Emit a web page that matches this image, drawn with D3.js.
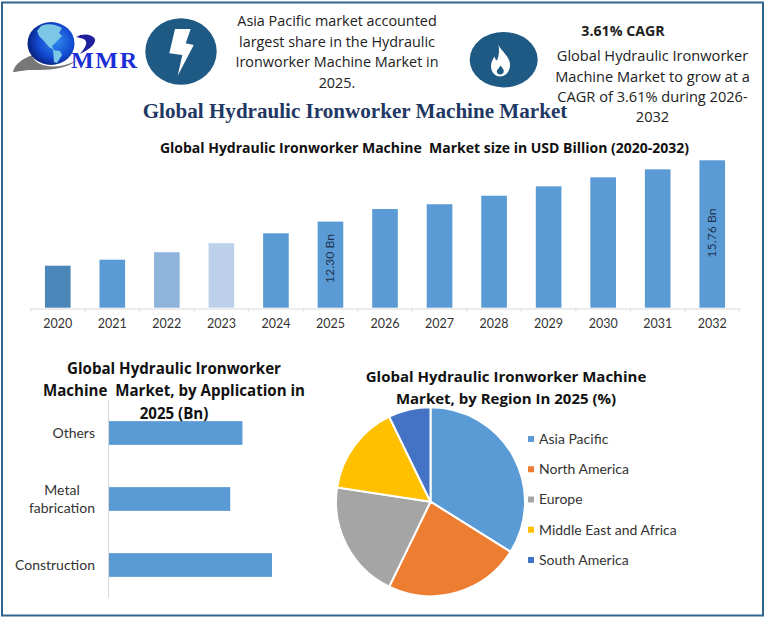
<!DOCTYPE html>
<html><head><meta charset="utf-8">
<style>html,body{margin:0;padding:0;background:#fff}svg{display:block}</style>
<script src="https://cdnjs.cloudflare.com/ajax/libs/d3/7.8.5/d3.min.js"></script>
</head><body><svg id="c" width="768" height="618"></svg>
<script>
const years=["2020","2021","2022","2023","2024","2025","2026","2027","2028","2029","2030","2031","2032"];
const sizes=[9.81,10.15,10.57,11.08,11.64,12.30,13.01,13.28,13.76,14.29,14.80,15.25,15.76];
const barColors=["#4a86b8","#5b9bd5","#8fb4dc","#bdd0e9","#5b9bd5","#5b9bd5","#5b9bd5","#5b9bd5","#5b9bd5","#5b9bd5","#5b9bd5","#5b9bd5","#5b9bd5"];
const barLabels={"2025":"12.30 Bn","2032":"15.76 Bn"};
const applications=["Others","Metal fabrication","Construction"];
const applicationValues=[3.93,3.57,4.80];
const regions=["Asia Pacific","North America","Europe","Middle East and Africa","South America"];
const regionShares=[33.9,23.3,20.2,15.4,7.2];
const regionColors=["#5b9bd5","#ed7d31","#a5a5a5","#ffc000","#4472c4"];

const sans="Lato, 'Open Sans', sans-serif";
const open="'Open Sans', Lato, sans-serif";
const svg=d3.select("#c");
const navy="#1f5a85";
svg.append("rect").attr("x",2).attr("y",2.5).attr("width",761).attr("height",613).attr("fill","#fff").attr("stroke","#2f6690").attr("stroke-width",2);

function lines(x,ys,arr,size,weight,fill,family){
  arr.forEach((t,i)=>svg.append("text").attr("x",x).attr("y",ys[i]).attr("text-anchor","middle")
    .attr("font-family",family||open).attr("font-size",size).attr("font-weight",weight||400).attr("fill",fill||"#222").style("white-space","pre").text(t));
}

/* logo */
const defs=svg.append("defs");
const g1=defs.append("radialGradient").attr("id","globe").attr("cx","0.6").attr("cy","0.45").attr("r","0.7");
g1.append("stop").attr("offset","0").attr("stop-color","#2f8df0");
g1.append("stop").attr("offset","0.55").attr("stop-color","#1248d0");
g1.append("stop").attr("offset","1").attr("stop-color","#04125a");
svg.append("path").attr("d","M13 72 C14 65 23 58 33 55 C32 62 44 68 60 66 C66 65 72 63 77 60 C66 70 46 70 32 70 C24 70 17 72 13 72Z").attr("fill","#777");
svg.append("ellipse").attr("cx",51).attr("cy",43.5).attr("rx",23.5).attr("ry",21.5).attr("fill","url(#globe)");
svg.append("path").attr("d","M41 26 C47 23 56 24 62 28 L59 33 L62 36 L57 41 L52 46 L54 50 L49 47 L44 41 L39 36 L37 31 Z").attr("fill","#7cc7e6");
svg.append("path").attr("d","M53 50 L60 51 L62 55 L57 63 L54 62 Z").attr("fill","#7cc7e6");
svg.append("path").attr("d","M76 37 C83 33 92 34 95 39 C96 45 88 50 80 54 C85 48 88 43 85 40 C83 38 79 38 76 37Z").attr("fill","#20209c");
svg.append("text").attr("x",71).attr("y",68).attr("font-family","'Liberation Serif',serif").attr("font-weight",700).attr("font-size",24).attr("fill","#1c2fd6").attr("textLength",66).text("MMR");

/* icons */
svg.append("ellipse").attr("cx",181).attr("cy",51.5).attr("rx",35.7).attr("ry",33.3).attr("fill",navy);
svg.append("path").attr("d","M175 29 L190.7 29 L185.7 43.3 L193.7 45 L177.7 75.7 L182.3 55 L169.3 53.3 Z").attr("fill","#fff");
svg.append("ellipse").attr("cx",503.7).attr("cy",59.7).attr("rx",34).attr("ry",27.7).attr("fill",navy);
svg.append("path").attr("d","M498.5 45 C501 51 510 56 510 65 C510 72 505 76.5 500 76.5 C495 76.5 491 72 491 66 C491 62 493 59 494.5 56.5 C495 59 496 60 497 60.5 C499 56 499.5 50 498.5 45Z").attr("fill","#fff");
svg.append("path").attr("d","M500.5 65.5 C502.5 68 504.5 70 503.5 72.5 C502.5 75 498 75 497 72.5 C496 70 499.5 68 500.5 65.5Z").attr("fill",navy);

/* header text */
lines(337,[26,47,67,88],["Asia Pacific market accounted","largest share in the Hydraulic","Ironworker Machine Market in","2025."],14.4,400,"#222");
lines(623,[36],["3.61% CAGR"],14.2,700,"#222");
lines(652.5,[61,82,102,122],["Global Hydraulic Ironworker","Machine Market to grow at a","CAGR of 3.61% during 2026-","2032"],14.6,400,"#222");
lines(355,[118],["Global Hydraulic Ironworker Machine Market"],21.1,700,"#1f3864","'Liberation Serif',serif");

/* column chart */
const x=d3.scaleBand().domain(years).range([30.5,739.5]).paddingInner(0.53).paddingOuter(0.265);
const y=d3.scaleLinear().domain([7.44,15.76]).range([307.7,160.3]);
lines(424.5,[153],["Global Hydraulic Ironworker Machine  Market size in USD Billion (2020-2032)"],14,700,"#111");
svg.append("g").selectAll("rect").data(years).join("rect")
  .attr("x",d=>x(d)).attr("width",x.bandwidth())
  .attr("y",(d,i)=>y(sizes[i])).attr("height",(d,i)=>y.range()[0]-y(sizes[i]))
  .attr("fill",(d,i)=>barColors[i]);
const xAxis=d3.axisBottom(x).tickSize(0).tickPadding(11);
const gx=svg.append("g").attr("transform","translate(0,308.5)").call(xAxis);
gx.select(".domain").attr("stroke","#d9d9d9");
gx.selectAll("text").attr("font-family",sans).attr("font-size",12.5).attr("fill","#333");
const step=x.step();
gx.selectAll("line.sep").data(d3.range(years.length+1)).join("line").attr("class","sep")
  .attr("x1",i=>30.5+i*step).attr("x2",i=>30.5+i*step).attr("y1",0).attr("y2",3).attr("stroke","#d9d9d9");
const labelY={"2025":258.5,"2032":233};
svg.append("g").selectAll("text").data(Object.keys(barLabels)).join("text")
  .attr("transform",d=>`translate(${x(d)+x.bandwidth()/2-0.5},${labelY[d]}) rotate(-90)`)
  .attr("text-anchor","middle").attr("dominant-baseline","central")
  .attr("font-family",sans).attr("font-size",12.3).attr("fill","#1f3350").text(d=>barLabels[d]);

/* application bars */
const by=d3.scaleBand().domain(applications).range([400,598]).paddingInner(0.64).paddingOuter(0.32);
const bx=d3.scaleLinear().domain([0,4.80]).range([109,272]);
svg.append("g").selectAll("rect").data(applications).join("rect")
  .attr("x",bx(0)).attr("y",d=>by(d)).attr("height",by.bandwidth())
  .attr("width",(d,i)=>bx(applicationValues[i])-bx(0)).attr("fill","#5b9bd5");
svg.append("line").attr("x1",108.5).attr("x2",108.5).attr("y1",400).attr("y2",598).attr("stroke","#d9d9d9");
const wrap={"Others":["Others"],"Metal fabrication":["Metal","fabrication"],"Construction":["Construction"]};
applications.forEach(a=>{
  const parts=wrap[a],cy=by(a)+by.bandwidth()/2;
  parts.forEach((p,i)=>svg.append("text").attr("x",95).attr("y",cy+(i-(parts.length-1)/2)*18+4.5)
    .attr("text-anchor",parts.length>1&&i===0?"middle":"end").attr("dx",parts.length>1&&i===0?-33:0)
    .attr("font-family",sans).attr("font-size",14).attr("fill","#333").text(p));
});
lines(174,[374,396,419],["Global Hydraulic Ironworker","Machine  Market, by Application in","2025 (Bn)"],15.1,700,"#111");

/* pie */
const pie=d3.pie().sort(null)(regionShares);
const arc=d3.arc().innerRadius(0).outerRadius(94.5);
svg.append("g").attr("transform","translate(430.5,501.7)").selectAll("path").data(pie).join("path")
  .attr("d",arc).attr("fill",(d,i)=>regionColors[i]).attr("stroke","#fff").attr("stroke-width",2);
lines(506,[382,404],["Global Hydraulic Ironworker Machine","Market, by Region In 2025 (%)"],15,700,"#111");
const ly=d3.scalePoint().domain(regions).range([439,560]);
const lg=svg.append("g").selectAll("g").data(regions).join("g").attr("transform",d=>`translate(0,${ly(d)})`);
lg.append("rect").attr("x",528).attr("y",-3).attr("width",6).attr("height",6).attr("fill",(d,i)=>regionColors[i]);
lg.append("text").attr("x",539).attr("y",4.8).attr("font-family",sans).attr("font-size",14).attr("fill","#333").text(d=>d);
</script></body></html>
